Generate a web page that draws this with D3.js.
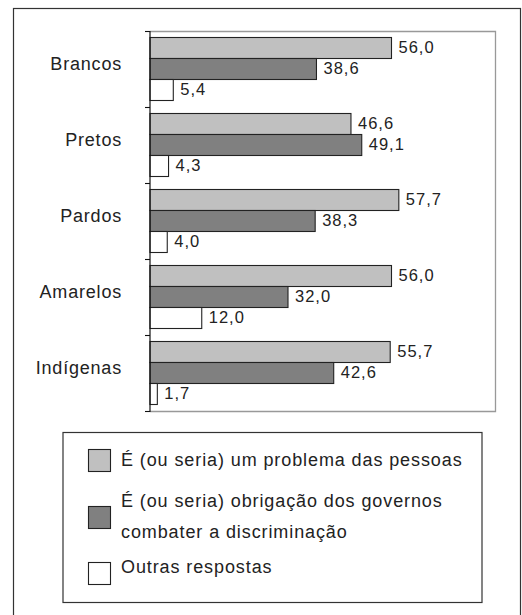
<!DOCTYPE html>
<html>
<head>
<meta charset="utf-8">
<script src="https://cdn.jsdelivr.net/npm/d3@7"></script>
<style>
  html, body { margin: 0; padding: 0; background: #fff; }
  svg { display: block; font-family: "Liberation Sans", Arial, sans-serif; }
</style>
</head>
<body>
<div id="chart"></div>
<script>
// Groups, answer series and their values (percent)
const categories = ["Brancos", "Pretos", "Pardos", "Amarelos", "Indígenas"];
const seriesKeys = ["problema", "governos", "outras"];
const seriesLabels = [
  ["É (ou seria) um problema das pessoas"],
  ["É (ou seria) obrigação dos governos", "combater a discriminação"],
  ["Outras respostas"]
];
const problemaValues = [56.0, 46.6, 57.7, 56.0, 55.7];
const governosValues = [38.6, 49.1, 38.3, 32.0, 42.6];
const outrasValues   = [5.4, 4.3, 4.0, 12.0, 1.7];
const xDomain = [0, 80];

const fills = { problema: "#c0c0c0", governos: "#808080", outras: "#ffffff" };

const data = categories.map((c, i) => ({
  category: c,
  values: [
    { key: "problema", value: problemaValues[i] },
    { key: "governos", value: governosValues[i] },
    { key: "outras", value: outrasValues[i] }
  ]
}));

const W = 522, H = 615;
const plot = { left: 150, top: 31, right: 495, bottom: 411 };

const svg = d3.select("#chart").append("svg")
  .attr("width", W).attr("height", H);

// Outer frame
svg.append("rect")
  .attr("x", 13.5).attr("y", 8.5)
  .attr("width", 507).attr("height", 620)
  .attr("fill", "none").attr("stroke", "#333").attr("stroke-width", 1.2);

const x = d3.scaleLinear().domain(xDomain).range([plot.left, plot.right]);
const y = d3.scaleBand().domain(categories).range([plot.top, plot.bottom]);
const yInner = d3.scaleBand().domain(seriesKeys)
  .range([6.5, y.bandwidth() - 6.5]);

const fmt = v => v.toFixed(1).replace(".", ",");

// Plot area frame (grey on top, right and bottom)
svg.append("path")
  .attr("d", `M${plot.left},${plot.top + 0.5}H${plot.right + 0.5}V${plot.bottom + 0.5}H${plot.left}`)
  .attr("fill", "none").attr("stroke", "#999").attr("stroke-width", 1.3);

// Bars
const groups = svg.append("g").selectAll("g")
  .data(data).join("g")
  .attr("transform", d => `translate(0,${y(d.category)})`);

groups.selectAll("rect")
  .data(d => d.values).join("rect")
  .attr("x", x(0))
  .attr("y", d => yInner(d.key))
  .attr("width", d => x(d.value) - x(0))
  .attr("height", yInner.bandwidth())
  .attr("fill", d => fills[d.key])
  .attr("stroke", "#222").attr("stroke-width", 1.1);

// Value labels
groups.selectAll("text")
  .data(d => d.values).join("text")
  .attr("x", d => x(d.value) + 7)
  .attr("y", d => yInner(d.key) + yInner.bandwidth() / 2 + 4.5)
  .attr("font-size", 16.5)
  .attr("letter-spacing", 1)
  .attr("fill", "#222")
  .text(d => fmt(d.value));

// Category axis: ticks at band edges, labels centred on bands
const axisG = svg.append("g");
axisG.append("line")
  .attr("x1", plot.left).attr("x2", plot.left)
  .attr("y1", plot.top).attr("y2", plot.bottom + 1)
  .attr("stroke", "#111").attr("stroke-width", 1.2);
const edges = categories.map(c => y(c)).concat([plot.bottom]);
axisG.selectAll("line.tick").data(edges).join("line")
  .attr("class", "tick")
  .attr("x1", plot.left - 5).attr("x2", plot.left)
  .attr("y1", d => d + 0.5).attr("y2", d => d + 0.5)
  .attr("stroke", "#111").attr("stroke-width", 1.1);
axisG.selectAll("text").data(categories).join("text")
  .attr("x", plot.left - 28)
  .attr("y", d => y(d) + y.bandwidth() / 2 + 1)
  .attr("text-anchor", "end")
  .attr("font-size", 18)
  .attr("letter-spacing", 0.8)
  .attr("fill", "#222")
  .text(d => d);

// Legend
const legend = svg.append("g");
legend.append("rect")
  .attr("x", 63).attr("y", 432.5)
  .attr("width", 419).attr("height", 170)
  .attr("fill", "none").attr("stroke", "#333").attr("stroke-width", 1.2);

const swatchY = [449, 506, 562];
const lineBaselines = [[466], [507, 538], [573]];
seriesKeys.forEach((k, i) => {
  legend.append("rect")
    .attr("x", 88.5).attr("y", swatchY[i] + 0.5)
    .attr("width", 22).attr("height", 22)
    .attr("fill", fills[k]).attr("stroke", "#222").attr("stroke-width", 1.1);
  seriesLabels[i].forEach((t, j) => {
    legend.append("text")
      .attr("x", 121)
      .attr("y", lineBaselines[i][j])
      .attr("font-size", 18)
      .attr("letter-spacing", 0.9)
      .attr("fill", "#222")
      .text(t);
  });
});
</script>
</body>
</html>
